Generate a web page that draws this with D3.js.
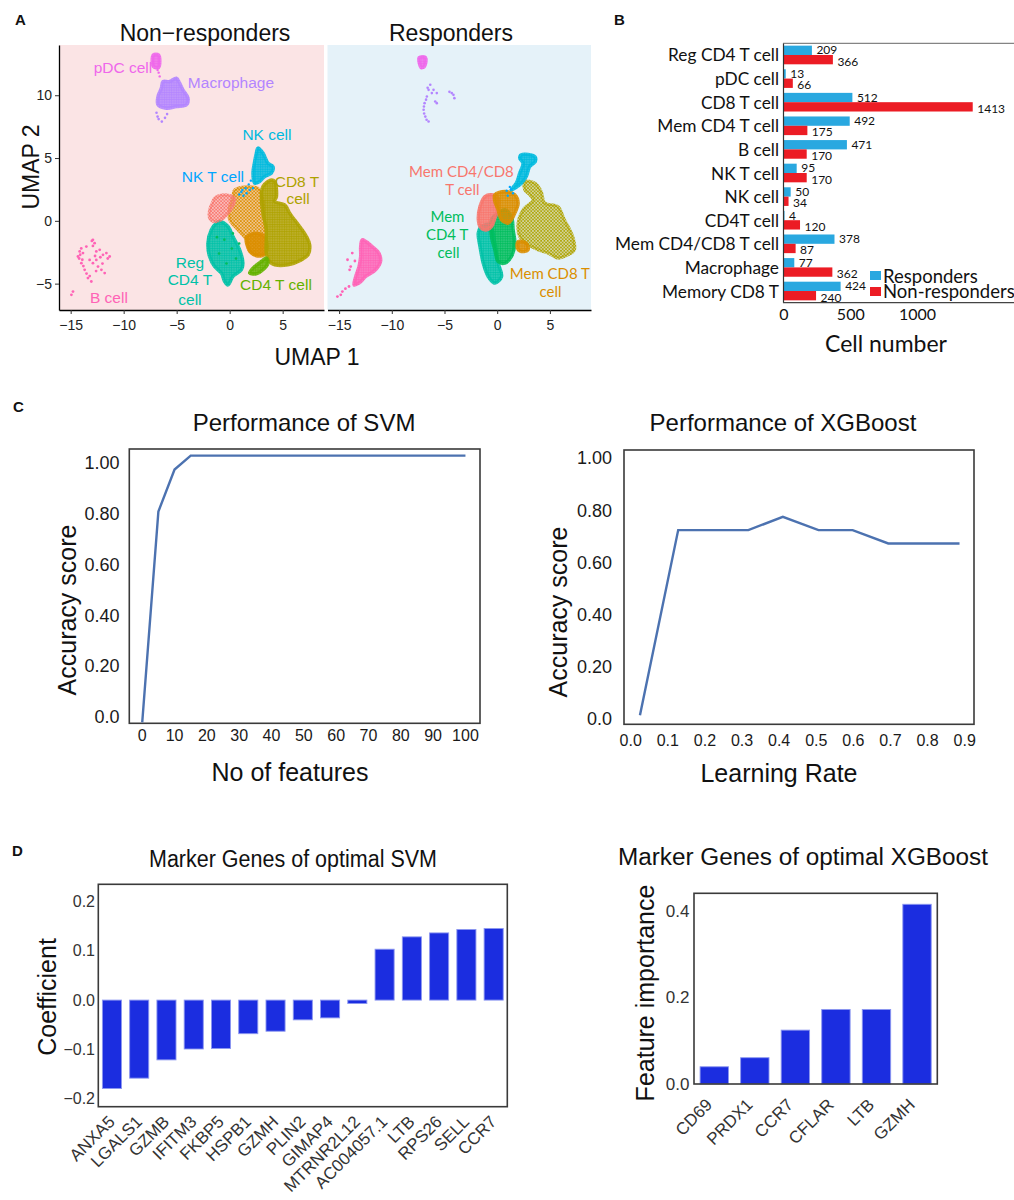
<!DOCTYPE html>
<html><head><meta charset="utf-8">
<script src="https://cdn.jsdelivr.net/npm/d3@7"></script>
<style>body{margin:0;background:#fff}svg{display:block}</style>
</head><body><svg id="c" width="1014" height="1200"></svg>
<script>
// ================= DATA =================
// Panel A: UMAP cluster outlines / points (data coordinates)
const umapXTicks = [-15, -10, -5, 0, 5];
const umapYTicks = [10, 5, 0, -5];
const clusterColors = {
  "Mem CD4/CD8 T cell": "#F8766D", "Mem CD8 T cell": "#DB8E00", "CD8 T cell": "#AEA200",
  "CD4 T cell": "#64B200", "Mem CD4 T cell": "#00BD5C", "Reg CD4 T cell": "#00C1A7",
  "NK cell": "#00BADE", "NK T cell": "#00A6FF", "Macrophage": "#B385FF",
  "pDC cell": "#EF67EB", "B cell": "#FF63B6"
};
// Non-responders
const nrRegCD4 = [[-0.94,-0.06],[-0.16,-0.45],[0.31,-1.25],[0.94,-2.31],[1.25,-3.37],[1.10,-3.90],[0.31,-4.43],[-0.16,-5.10],[-0.47,-4.83],[-0.78,-4.16],[-1.42,-3.64],[-1.89,-2.84],[-2.05,-1.78],[-1.73,-0.72],[-1.25,-0.18]];
const nrMemCD4CD8 = [[-1.42,1.81],[-0.47,2.07],[0.47,1.81],[0.31,1.14],[-0.16,0.61],[-0.78,0.08],[-1.42,-0.06],[-1.89,0.21],[-1.89,0.88],[-1.58,1.54]];
const nrMemCD8 = [[0.47,2.47],[2.67,2.60],[3.14,1.67],[3.30,-0.18],[3.46,-1.51],[3.30,-2.57],[2.67,-2.71],[1.89,-2.44],[1.58,-1.51],[0.78,-0.72],[0,0.08],[0,1.14],[0.31,1.93]];
const nrMemCD8Core = [[1.6,-1.3],[2.6,-1.0],[3.4,-1.4],[3.4,-2.6],[2.6,-2.8],[1.9,-2.4]];
const nrCD8 = [[3.93,3.26],[4.25,3.13],[4.41,1.93],[4.25,1.54],[5.19,1.27],[5.66,0.61],[6.60,-0.45],[7.24,-1.25],[7.55,-1.91],[7.39,-2.71],[6.76,-3.11],[5.50,-3.50],[4.25,-3.50],[3.77,-3.24],[3.46,-2.57],[3.46,-0.72],[3.14,0.61],[2.99,1.93],[3.14,2.73],[3.61,3.13]];
const nrCD4 = [[1.89,-4.16],[2.36,-3.64],[2.99,-3.24],[3.46,-2.97],[3.61,-3.37],[3.14,-3.90],[2.52,-4.22]];
const nrNK = [[2.67,5.79],[3.14,5.39],[3.61,4.59],[4.08,4.32],[3.93,3.80],[3.30,3.53],[2.83,3.13],[2.36,3.00],[2.20,3.80],[2.36,4.72],[2.52,5.39]];
const nrNKT = [[1.1,2.3],[1.5,2.6],[1.8,2.9],[2.0,3.2],[1.3,2.0],[2.2,2.6],[0.9,2.1],[1.6,2.2],[1.9,2.45],[1.2,2.45]];
const nrMemCD4Pts = [[-0.5,-1.5],[0.2,-2.2],[-1.0,-2.6],[0.6,-3.0],[-0.3,-3.4],[0.3,-1.0],[-1.2,-1.3],[0.9,-1.8]];
const nrPDC = [[-7.2,13.2],[-6.7,13.2],[-6.6,12.5],[-6.7,12.2],[-7.2,12.3]];
const nrPDCpts = [[-6.8,12.0],[-6.7,11.8],[-6.6,11.5]];
const nrMac = [[-6.29,11.09],[-5.66,11.09],[-5.03,11.36],[-4.72,10.96],[-4.41,10.43],[-3.93,9.77],[-4.08,9.24],[-5.03,9.10],[-5.97,8.97],[-6.76,9.24],[-6.76,9.90],[-6.44,10.57]];
const nrMacPts = [[-6.9,8.6],[-6.8,8.3],[-6.7,8.1],[-6.4,7.9],[-6.1,8.2],[-5.9,8.5]];
const nrB = [[-12.9,-1.51],[-12.74,-1.78],[-14.15,-2.44],[-14.31,-2.84],[-13.99,-3.37],[-13.68,-3.90],[-13.37,-4.56],[-13.05,-4.83],[-12.58,-2.44],[-12.26,-2.31],[-11.63,-2.57],[-11.32,-2.84],[-12.9,-3.37],[-12.42,-3.64],[-12.1,-3.90],[-11.79,-4.16],[-13.84,-2.57],[-13.52,-2.05],[-13.21,-3.11],[-12.58,-3.11],[-11.95,-2.71],[-14.78,-5.63],[-14.93,-5.89],[-14.0,-2.2],[-14.2,-3.0],[-13.8,-3.6],[-13.5,-4.2],[-13.2,-4.4],[-12.7,-2.8],[-12.2,-2.9],[-12.9,-2.0],[-13.0,-1.6],[-12.0,-3.4],[-11.5,-3.0],[-12.6,-4.0],[-14.1,-2.7],[-13.9,-3.1]];
// Responders
const rRegCD4 = [[-1.48,-0.45],[-0.69,-0.32],[-0.22,-1.78],[0.09,-3.37],[0.41,-4.43],[-0.22,-4.96],[-0.85,-4.43],[-1.32,-3.37],[-1.63,-2.05],[-1.79,-0.98]];
const rMemCD4 = [[-0.54,0.08],[0.09,0.61],[0.73,0.88],[1.35,0.34],[1.51,-0.72],[1.67,-1.78],[1.35,-2.84],[0.73,-3.37],[0.09,-3.24],[-0.22,-2.31],[-0.54,-1.25]];
const rMemCD4CD8 = [[-1.16,1.93],[-0.54,2.07],[0.09,1.81],[0.09,0.88],[-0.22,0.21],[-0.54,-0.45],[-1.16,-0.72],[-1.63,-0.45],[-1.79,0.21],[-1.63,1.14]];
const rMemCD8 = [[-0.22,2.07],[0.73,2.33],[1.67,2.07],[1.98,1.41],[1.67,0.61],[1.35,0.08],[1.04,-0.18],[0.41,0.08],[0.09,0.88],[-0.22,1.54]];
const rMemCD8Low = [[1.98,-1.65],[2.76,-1.78],[2.92,-2.31],[2.29,-2.44],[1.92,-2.17]];
const rCD8 = [[2.61,3.13],[3.56,3.00],[4.18,2.33],[4.50,1.43],[5.75,1.14],[6.39,0.08],[7.17,-1.25],[7.33,-2.31],[6.70,-2.71],[5.75,-2.97],[4.81,-2.57],[3.87,-2.31],[2.92,-1.91],[2.14,-1.25],[1.98,-0.18],[2.45,0.88],[3.40,1.67],[3.08,2.07],[2.61,2.47]];
const rNK = [[2.29,5.25],[3.56,5.12],[3.61,4.72],[3.08,4.32],[2.76,3.53],[2.29,3.00],[1.67,2.60],[1.35,2.47],[1.82,3.00],[2.14,3.80],[2.45,4.59],[2.14,4.99]];
const rNKT = [[0.9,2.4],[1.2,2.7],[1.5,2.2],[1.0,2.0],[1.3,2.5]];
const rPDC = [[-7.4,13.0],[-6.8,13.0],[-6.9,12.3],[-7.2,12.2]];
const rMacPts = [[-6.35,10.83],[-6.51,10.43],[-6.67,9.90],[-6.89,9.37],[-6.98,8.84],[-6.82,8.30],[-6.51,7.91],[-6.04,10.43],[-5.73,10.17],[-5.88,9.50],[-5.73,9.37],[-6.2,10.17],[-4.31,10.17],[-4.06,9.77],[-4.53,10.27],[-4.15,10.03],[-6.95,9.1],[-6.93,8.55],[-6.7,8.05],[-6.6,10.6],[-6.75,9.65]];
const rB = [[-12.8,-1.51],[-11.86,-2.05],[-11.23,-2.57],[-11.07,-3.24],[-11.54,-3.90],[-12.48,-4.43],[-13.11,-4.96],[-13.58,-5.10],[-13.42,-4.43],[-13.11,-3.64],[-12.95,-2.84],[-12.95,-2.05]];
const rBPts = [[-14.06,-5.23],[-14.69,-5.63],[-15.16,-6.03],[-14.84,-5.89],[-14.4,-5.4],[-14.2,-3.1],[-13.75,-2.57],[-13.9,-3.64],[-13.5,-3.2],[-14.0,-3.9]];
// UMAP cluster label positions [x, y, text, cell type]
const nrLabels = [[-10.07,12.17,"pDC cell","pDC cell"],[0.12,11.05,"Macrophage","Macrophage"],[3.52,6.91,"NK cell","NK cell"],[-1.58,3.49,"NK T cell","NK T cell"],[6.35,3.15,"CD8 T","CD8 T cell"],[6.45,1.75,"cell","CD8 T cell"],[-3.75,-3.32,"Reg","Reg CD4 T cell"],[-3.75,-4.66,"CD4 T","Reg CD4 T cell"],[-3.75,-6.23,"cell","Reg CD4 T cell"],[4.37,-5.03,"CD4 T cell","CD4 T cell"],[-11.39,-6.12,"B cell","B cell"]];
const rLabels = [[-3.39,4.0,"Mem CD4/CD8","Mem CD4/CD8 T cell"],[-3.3,2.53,"T cell","Mem CD4/CD8 T cell"],[-4.72,0.38,"Mem","Mem CD4 T cell"],[-4.75,-1.07,"CD4 T","Mem CD4 T cell"],[-4.62,-2.5,"cell","Mem CD4 T cell"],[5.0,-4.12,"Mem CD8 T","Mem CD8 T cell"],[5.06,-5.57,"cell","Mem CD8 T cell"]];

// Panel B
const cellTypes = ["Reg CD4 T cell","pDC cell","CD8 T cell","Mem CD4 T cell","B cell","NK T cell","NK cell","CD4T cell","Mem CD4/CD8 T cell","Macrophage","Memory CD8 T"];
const respCounts = [209,13,512,492,471,95,50,4,378,77,424];
const nonRespCounts = [366,66,1413,175,170,170,34,120,87,362,240];
const countTicks = [0,500,1000];

// Panel C
const svmFeatures = [0,5,10,15,100];
const svmAccuracy = [-0.02,0.81,0.975,1.03,1.03];
const svmXTicks = [0,10,20,30,40,50,60,70,80,90,100];
const accTicks = [0,0.2,0.4,0.6,0.8,1.0];
const accTickLabels = ["0.0","0.20","0.40","0.60","0.80","1.00"];
const xgbRates = [0.025,0.128,0.22,0.317,0.41,0.506,0.598,0.694,0.79,0.886];
const xgbAccuracy = [0.016,0.725,0.725,0.725,0.776,0.725,0.725,0.674,0.674,0.674];
const rateTicks = [0,0.1,0.2,0.3,0.4,0.5,0.6,0.7,0.8,0.9];

// Panel D
const svmGenes = ["ANXA5","LGALS1","GZMB","IFITM3","FKBP5","HSPB1","GZMH","PLIN2","GIMAP4","MTRNR2L12","AC004057.1","LTB","RPS26","SELL","CCR7"];
const svmCoef = [-0.179,-0.158,-0.121,-0.099,-0.098,-0.068,-0.063,-0.040,-0.036,-0.007,0.103,0.128,0.136,0.143,0.145];
const coefTicks = [0.2,0.1,0,-0.1,-0.2];
const xgbGenes = ["CD69","PRDX1","CCR7","CFLAR","LTB","GZMH"];
const xgbImportance = [0.040,0.061,0.125,0.173,0.173,0.417];
const impTicks = [0,0.2,0.4];

// ================= DRAW =================
const ARIAL = "'Liberation Sans', Arial, Helvetica, sans-serif";
const MYRIAD = "Lato, 'Open Sans', sans-serif";
const svg = d3.select("#c");
svg.append("rect").attr("width",1014).attr("height",1200).attr("fill","#fff");
const defs = svg.append("defs");
const fmtMinus = s => String(s).replace("-", "\u2212");

function txt(g, x, y, s, o = {}) {
  const t = g.append("text").attr("x", x).attr("y", y).text(s)
    .attr("font-size", o.size || 14).attr("text-anchor", o.anchor || "start")
    .attr("fill", o.fill || "#111").attr("dominant-baseline", o.base || "central")
    .attr("font-family", o.family || ARIAL);
  if (o.weight) t.attr("font-weight", o.weight);
  if (o.rotate) t.attr("transform", `rotate(${o.rotate},${x},${y})`);
  if (o.len) t.attr("textLength", o.len).attr("lengthAdjust", "spacingAndGlyphs");
  return t;
}

// dot patterns for scatter-like clusters
let patId = 0;
function pattern(color, dense) {
  const id = "p" + (patId++);
  const s = dense ? 2.4 : 3.3;
  const p = defs.append("pattern").attr("id", id).attr("patternUnits", "userSpaceOnUse").attr("width", s).attr("height", s);
  p.append("rect").attr("width", s).attr("height", s).attr("fill", color).attr("fill-opacity", dense ? 0.72 : 0.28);
  if (dense) {
    p.append("circle").attr("cx", s/2).attr("cy", s/2).attr("r", 1.1).attr("fill", color);
  } else {
    [[s/2,s/2],[0,0],[s,0],[0,s],[s,s]].forEach(c => p.append("circle").attr("cx", c[0]).attr("cy", c[1]).attr("r", 0.95).attr("fill", color));
  }
  return "url(#" + id + ")";
}

// ---------- Panel A ----------
const A = svg.append("g");
txt(A, 15, 19, "A", {size: 15, weight: "bold", family: ARIAL});
const yU = d3.scaleLinear().domain([-7.1, 14.0]).range([310, 45]);
const panels = [
  {x: d3.scaleLinear().domain([-16.1, 8.9]).range([59, 324]), bg: "#FBE4E5", title: "Non\u2212responders", tx: 205},
  {x: d3.scaleLinear().domain([-16.1, 8.9]).range([327.5, 591]), bg: "#E5F2F9", title: "Responders", tx: 451}
];
panels.forEach((P, i) => {
  const [x0, x1] = P.x.range();
  const cid = "clipA" + i;
  defs.append("clipPath").attr("id", cid).append("rect").attr("x", x0).attr("y", 45).attr("width", x1 - x0).attr("height", 265);
  A.append("rect").attr("x", x0).attr("y", 45).attr("width", x1 - x0).attr("height", 265).attr("fill", P.bg);
  P.g = A.append("g").attr("clip-path", `url(#${cid})`);
  P.line = d3.line().x(d => P.x(d[0])).y(d => yU(d[1])).curve(d3.curveCatmullRomClosed.alpha(0.5));
  txt(A, P.tx, 33, P.title, {size: 23, anchor: "middle"});
  const ax = A.append("g").attr("transform", "translate(0,310)")
    .call(d3.axisBottom(P.x).tickValues(umapXTicks).tickSize(4).tickSizeOuter(0).tickFormat(d => fmtMinus(d)));
  ax.select(".domain").attr("stroke", "#000").attr("stroke-width", 1.3);
  ax.selectAll(".tick line").attr("stroke", "#333");
  ax.selectAll("text").attr("font-size", 14).attr("font-family", ARIAL).attr("fill", "#222").attr("dy", "0.95em");
});
const yAx = A.append("g").attr("transform", "translate(59,0)")
  .call(d3.axisLeft(yU).tickValues(umapYTicks).tickSize(4).tickSizeOuter(0).tickFormat(d => fmtMinus(d)));
yAx.select(".domain").attr("stroke", "#000").attr("stroke-width", 1.3);
yAx.selectAll(".tick line").attr("stroke", "#333");
yAx.selectAll("text").attr("font-size", 14).attr("font-family", ARIAL).attr("fill", "#222");
txt(A, 317, 357, "UMAP 1", {size: 23, anchor: "middle"});
txt(A, 31, 167, "UMAP 2", {size: 23, anchor: "middle", rotate: -90});

function blob(P, pts, type, dense) {
  const f = pattern(clusterColors[type], dense);
  P.g.append("path").attr("d", P.line(pts)).attr("fill", f)
    .attr("stroke", f).attr("stroke-width", dense ? 3.5 : 3).attr("stroke-linejoin", "round");
}
function dots(P, pts, type, r) {
  P.g.selectAll(null).data(pts).enter().append("circle")
    .attr("cx", d => P.x(d[0])).attr("cy", d => yU(d[1])).attr("r", r || 1.3).attr("fill", clusterColors[type]);
}
const NR = panels[0], R = panels[1];
blob(NR, nrMemCD8, "Mem CD8 T cell", false);
blob(NR, nrRegCD4, "Reg CD4 T cell", true);
dots(NR, nrMemCD4Pts, "Mem CD4 T cell", 1.3);
blob(NR, nrMemCD4CD8, "Mem CD4/CD8 T cell", false);
blob(NR, nrMemCD8Core, "Mem CD8 T cell", true);
blob(NR, nrCD8, "CD8 T cell", true);
blob(NR, nrCD4, "CD4 T cell", true);
blob(NR, nrNK, "NK cell", true);
dots(NR, nrNKT, "NK T cell", 1.2);
blob(NR, nrPDC, "pDC cell", true);
dots(NR, nrPDCpts, "pDC cell", 1.2);
blob(NR, nrMac, "Macrophage", true);
dots(NR, nrMacPts, "Macrophage", 1.3);
dots(NR, nrB, "B cell", 1.4);

blob(R, rCD8, "CD8 T cell", false);
blob(R, rRegCD4, "Reg CD4 T cell", true);
blob(R, rMemCD4, "Mem CD4 T cell", true);
blob(R, rMemCD4CD8, "Mem CD4/CD8 T cell", true);
blob(R, rMemCD8, "Mem CD8 T cell", true);
blob(R, rMemCD8Low, "Mem CD8 T cell", true);
blob(R, rNK, "NK cell", true);
dots(R, rNKT, "NK T cell", 1.2);
blob(R, rPDC, "pDC cell", true);
dots(R, rMacPts, "Macrophage", 1.3);
blob(R, rB, "B cell", true);
dots(R, rBPts, "B cell", 1.4);

nrLabels.forEach(l => txt(A, NR.x(l[0]), yU(l[1]), l[2], {size: 15.5, anchor: "middle", fill: clusterColors[l[3]]}));
rLabels.forEach(l => txt(A, R.x(l[0]), yU(l[1]), l[2], {size: 15, anchor: "middle", fill: clusterColors[l[3]], family: MYRIAD}));

// ---------- Panel B ----------
const B = svg.append("g");
txt(B, 614, 19, "B", {size: 15, weight: "bold"});
const xB = d3.scaleLinear().domain([0, 1722]).range([784, 1014]);
const yB = d3.scaleBand().domain(cellTypes).range([43.3, 302.7]).paddingInner(0.21).paddingOuter(0.1);
const bh = yB.bandwidth() / 2;
B.selectAll(".rb").data(cellTypes).enter().append("rect")
  .attr("x", xB(0)).attr("y", d => yB(d)).attr("height", bh)
  .attr("width", (d, i) => xB(respCounts[i]) - xB(0)).attr("fill", "#29A8E0");
B.selectAll(".nb").data(cellTypes).enter().append("rect")
  .attr("x", xB(0)).attr("y", d => yB(d) + bh).attr("height", bh)
  .attr("width", (d, i) => xB(nonRespCounts[i]) - xB(0)).attr("fill", "#EC1C24");
cellTypes.forEach((c, i) => {
  txt(B, xB(respCounts[i]) + 4.5, yB(c) + bh / 2 - 0.5, respCounts[i], {size: 12, family: MYRIAD, fill: "#111"});
  txt(B, xB(nonRespCounts[i]) + 4.5, yB(c) + bh * 1.5 + 1.5, nonRespCounts[i], {size: 12, family: MYRIAD, fill: "#111"});
  txt(B, 779, yB(c) + bh, c, {size: 17.3, anchor: "end", family: MYRIAD, fill: "#111"});
});
B.append("line").attr("x1", 783.5).attr("x2", 783.5).attr("y1", 43.3).attr("y2", 302.7).attr("stroke", "#333").attr("stroke-width", 1.2);
B.append("line").attr("x1", 783).attr("x2", 1014).attr("y1", 43.3).attr("y2", 43.3).attr("stroke", "#666").attr("stroke-width", 1);
B.append("line").attr("x1", 783).attr("x2", 1014).attr("y1", 302.7).attr("y2", 302.7).attr("stroke", "#444").attr("stroke-width", 1.2);
countTicks.forEach(t => txt(B, xB(t), 313, t, {size: 16, anchor: "middle", family: MYRIAD}));
txt(B, 886, 343, "Cell number", {size: 23, anchor: "middle", family: MYRIAD});
B.append("rect").attr("x", 870).attr("y", 271).attr("width", 11).attr("height", 9).attr("fill", "#29A8E0");
B.append("rect").attr("x", 870).attr("y", 287).attr("width", 11).attr("height", 9).attr("fill", "#EC1C24");
txt(B, 883, 276, "Responders", {size: 18.5, family: MYRIAD});
txt(B, 883, 290.5, "Non-responders", {size: 18.5, family: MYRIAD});

// ---------- Panel C ----------
const C = svg.append("g");
txt(C, 13, 406, "C", {size: 15, weight: "bold"});
function linePanel(o) {
  const g = C.append("g");
  g.append("rect").attr("x", o.x.range()[0]).attr("y", o.y.range()[1])
    .attr("width", o.x.range()[1] - o.x.range()[0]).attr("height", o.y.range()[0] - o.y.range()[1])
    .attr("fill", "none").attr("stroke", "#3a3a3a").attr("stroke-width", 1.6);
  const line = d3.line().x(d => o.x(d[0])).y(d => o.y(d[1]));
  g.append("path").attr("d", line(o.xs.map((v, i) => [v, o.ys[i]])))
    .attr("fill", "none").attr("stroke", "#4C72B0").attr("stroke-width", 2.4);
  accTicks.forEach((t, i) => txt(g, o.ylabX, o.y(t), accTickLabels[i], {size: 18, anchor: "end", fill: "#1a1a1a"}));
  o.xTicks.forEach((t, i) => txt(g, o.x(t), o.xlabY, o.xFmt(t), {size: 16, anchor: "middle", fill: "#1a1a1a"}));
  txt(g, o.titleX, 422, o.title, {size: 24, anchor: "middle"});
  txt(g, o.yTitleX, o.yTitleY, "Accuracy score", {size: 25, anchor: "middle", rotate: -90});
  txt(g, o.xTitleX, o.xTitleY, o.xTitle, {size: 25, anchor: "middle"});
}
linePanel({
  x: d3.scaleLinear().domain([-4, 104.5]).range([129.3, 480]),
  y: d3.scaleLinear().domain([-0.0236, 1.056]).range([723.3, 449]),
  xs: svmFeatures, ys: svmAccuracy, xTicks: svmXTicks, xFmt: d => d,
  ylabX: 119.5, xlabY: 735, title: "Performance of SVM", titleX: 304,
  yTitleX: 67, yTitleY: 610, xTitle: "No of features", xTitleX: 290, xTitleY: 772
});
linePanel({
  x: d3.scaleLinear().domain([-0.018, 0.925]).range([624, 974]),
  y: d3.scaleLinear().domain([-0.019, 1.032]).range([724.3, 450]),
  xs: xgbRates, ys: xgbAccuracy, xTicks: rateTicks, xFmt: d => d3.format(".1f")(d),
  ylabX: 612, xlabY: 740, title: "Performance of XGBoost", titleX: 783,
  yTitleX: 558, yTitleY: 612, xTitle: "Learning Rate", xTitleX: 779, xTitleY: 773
});

// ---------- Panel D ----------
const D = svg.append("g");
txt(D, 12, 850, "D", {size: 15, weight: "bold"});
function barPanel(o) {
  const g = D.append("g");
  const x = d3.scaleBand().domain(o.genes).range(o.xr).paddingInner(0.3).paddingOuter(0.15);
  const y = d3.scaleLinear().domain(o.yd).range(o.yr);
  g.selectAll("rect.bar").data(o.genes).enter().append("rect")
    .attr("x", d => x(d)).attr("width", x.bandwidth())
    .attr("y", (d, i) => Math.min(y(0), y(o.vals[i])))
    .attr("height", (d, i) => Math.abs(y(o.vals[i]) - y(0)))
    .attr("fill", "#1B2DE0").attr("stroke", "#8C97F0").attr("stroke-width", 0.9);
  g.append("rect").attr("x", o.xr[0]).attr("y", o.yr[1]).attr("width", o.xr[1] - o.xr[0]).attr("height", o.yr[0] - o.yr[1])
    .attr("fill", "none").attr("stroke", "#3a3a3a").attr("stroke-width", 1.6);
  o.ticks.forEach(t => txt(g, o.ylabX, y(t), fmtMinus(d3.format(".1f")(t)), {size: o.tickSize, anchor: "end", fill: "#333"}));
  o.genes.forEach(gn => {
    const cx = x(gn) + x.bandwidth() / 2 + o.labDx;
    g.append("text").attr("transform", `translate(${cx},${o.labY}) rotate(-45)`)
      .attr("text-anchor", "end").attr("dominant-baseline", "central")
      .attr("font-size", 17).attr("font-family", ARIAL).attr("fill", "#333").text(gn);
  });
  txt(g, o.titleX, o.titleY, o.title, {size: 23, anchor: "middle", len: o.titleLen});
  txt(g, o.yTitleX, o.yTitleY, o.yTitle, {size: 25, anchor: "middle", rotate: -90});
}
barPanel({
  genes: svmGenes, vals: svmCoef, xr: [98.3, 507.3], yd: [-0.2158, 0.2344], yr: [1106.7, 884.3],
  ticks: coefTicks, tickSize: 16, ylabX: 95, labDx: 0, labY: 1119,
  title: "Marker Genes of optimal SVM", titleX: 293, titleY: 859, titleLen: 288,
  yTitle: "Coefficient", yTitleX: 47, yTitleY: 997
});
barPanel({
  genes: xgbGenes, vals: xgbImportance, xr: [694, 937.3], yd: [0, 0.4425], yr: [1084, 893.3],
  ticks: impTicks, tickSize: 17, ylabX: 689.5, labDx: -5, labY: 1102,
  title: "Marker Genes of optimal XGBoost", titleX: 803, titleY: 857, titleLen: 370,
  yTitle: "Feature importance", yTitleX: 645, yTitleY: 993
});
</script></body></html>
